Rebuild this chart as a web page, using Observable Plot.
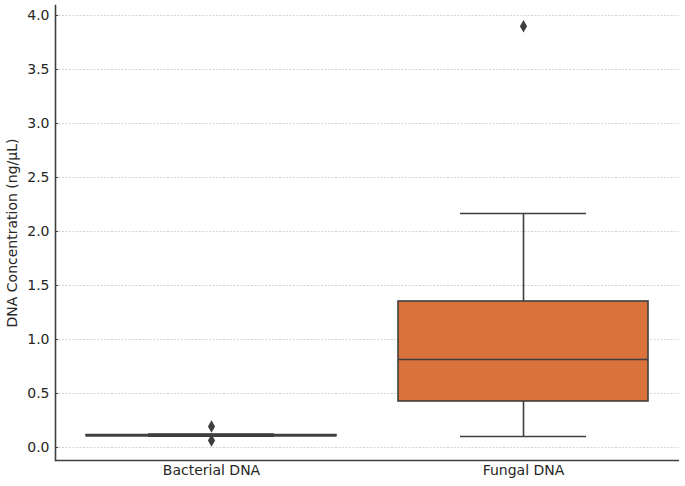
<!DOCTYPE html>
<html>
<head>
<meta charset="utf-8">
<script src="https://cdn.jsdelivr.net/npm/d3@7"></script>
<script src="https://cdn.jsdelivr.net/npm/@observablehq/plot@0.6"></script>
<style>
  body { margin: 0; background: #fff; }
  svg { font-family: "DejaVu Sans", sans-serif; }
</style>
</head>
<body>
<div id="chart"></div>
<script>
const categories = ["Bacterial DNA", "Fungal DNA"];
const q1 = [0.105, 0.426];
const median = [0.11, 0.815];
const q3 = [0.115, 1.352];
const whiskerLow = [0.105, 0.102];
const whiskerHigh = [0.125, 2.167];
const fills = ["#4c72b0", "#da723c"];
const outlierCat = ["Bacterial DNA", "Bacterial DNA", "Fungal DNA"];
const outlierVal = [0.195, 0.065, 3.90];
const yTicks = [0, 0.5, 1.0, 1.5, 2.0, 2.5, 3.0, 3.5, 4.0];

const boxes = categories.map((c, i) => ({
  cat: c, q1: q1[i], med: median[i], q3: q3[i],
  lo: whiskerLow[i], hi: whiskerHigh[i], fill: fills[i]
}));
const outliers = outlierCat.map((c, i) => ({cat: c, v: outlierVal[i]}));

const ink = "#3f3f3f";
const chart = Plot.plot({
  width: 685,
  height: 486,
  marginLeft: 55,
  marginRight: 6,
  marginTop: 5,
  marginBottom: 26,
  style: {fontSize: "14px", fontFamily: "DejaVu Sans, sans-serif", color: "#262626"},
  x: {domain: categories, paddingInner: 0.2, paddingOuter: 0.1, label: null},
  y: {domain: [-0.1204, 4.0926], ticks: yTicks, label: null},
  marks: [
    Plot.gridY(yTicks, {stroke: "#c8c8c8", strokeOpacity: 1, strokeWidth: 0.8, strokeDasharray: "2,1.5"}),
    Plot.tickY(yTicks, {y: d => d, stroke: ink, strokeWidth: 1, insetRight: 624 - 3}),
    Plot.ruleX(boxes, {x: "cat", y1: "lo", y2: "q1", stroke: ink, strokeWidth: 1.6}),
    Plot.ruleX(boxes, {x: "cat", y1: "q3", y2: "hi", stroke: ink, strokeWidth: 1.6}),
    Plot.tickY(boxes, {x: "cat", y: "lo", stroke: ink, strokeWidth: 1.6, insetLeft: 62, insetRight: 62}),
    Plot.tickY(boxes, {x: "cat", y: "hi", stroke: ink, strokeWidth: 1.6, insetLeft: 62, insetRight: 62}),
    Plot.rect(boxes, {x: "cat", y1: "q1", y2: "q3", fill: "fill", stroke: ink, strokeWidth: 1.6}),
    Plot.tickY(boxes, {x: "cat", y: "med", stroke: ink, strokeWidth: 1.6}),
    Plot.dot(outliers, {x: "cat", y: "v", symbol: "diamond", r: 3.8, fill: ink, stroke: null}),
    Plot.axisY({ticks: yTicks, tickFormat: d3.format(".1f"), tickSize: 0, tickPadding: 6, label: "DNA Concentration (ng/μL)", labelAnchor: "center", labelArrow: "none", labelOffset: 48, fontSize: 14}),
    Plot.axisX({tickSize: 0, tickPadding: 5, label: null, fontSize: 14}),
    Plot.ruleY([-0.1204], {stroke: ink, strokeWidth: 1.6}),
    Plot.frame({anchor: "left", stroke: ink, strokeWidth: 1.6})
  ]
});
document.getElementById("chart").appendChild(chart);
</script>
</body>
</html>
